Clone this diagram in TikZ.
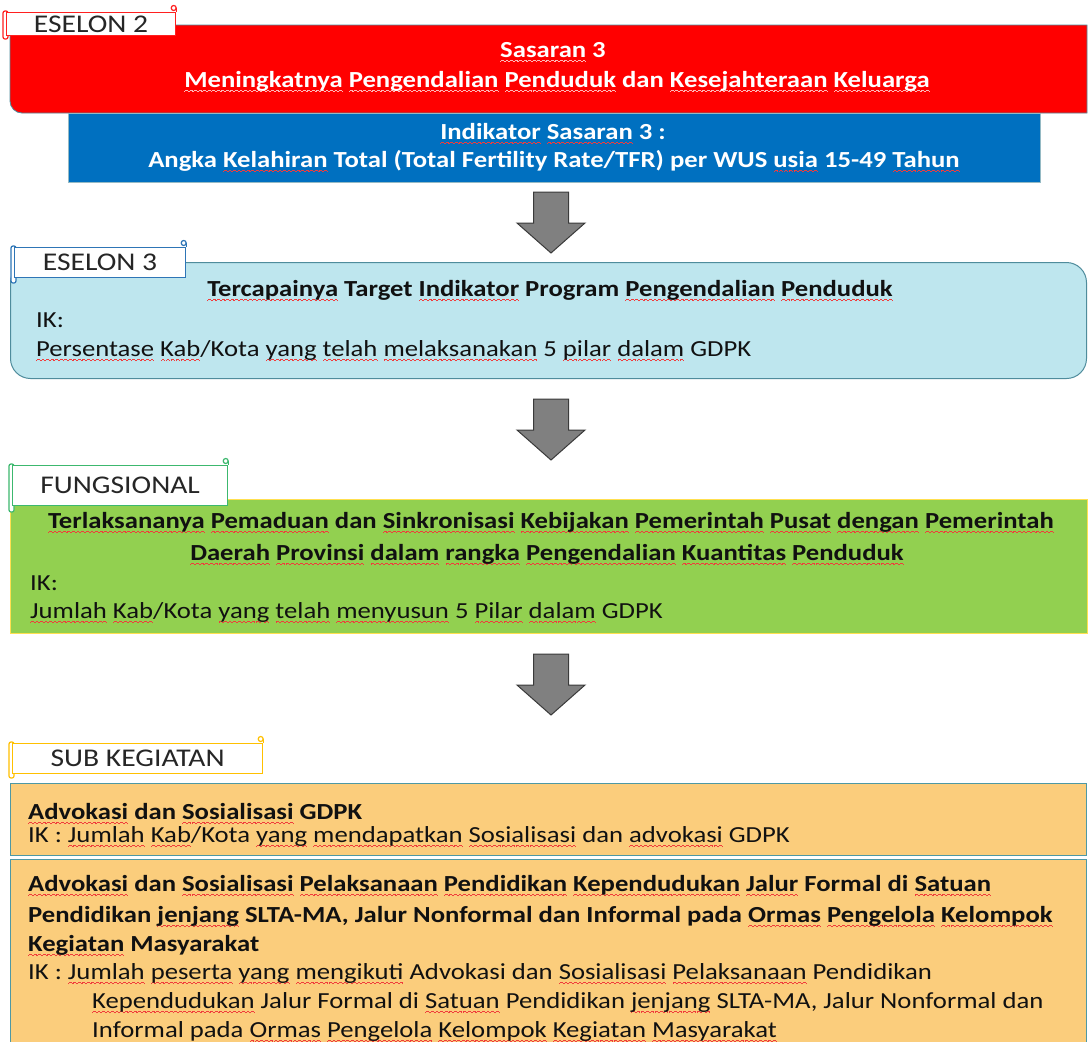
\documentclass[tikz,border=0pt]{standalone}
\usepackage{fontspec}
\setmainfont{Carlito}[FakeStretch=1.16]
\usepackage{xcolor}

\definecolor{sasRed}{HTML}{FF0000}
\definecolor{indBlue}{HTML}{0070C0}
\definecolor{esBlue}{HTML}{BEE6EE}
\definecolor{esEdge}{HTML}{4F8C9C}
\definecolor{fnGreen}{HTML}{92D050}
\definecolor{fnEdge}{HTML}{FFE050}
\definecolor{subOrange}{HTML}{FBCD7C}
\definecolor{subEdge}{HTML}{4E98A4}
\definecolor{tabRed}{HTML}{FF2020}
\definecolor{tabBlue}{HTML}{2E75B6}
\definecolor{tabGreen}{HTML}{3CB86E}
\definecolor{tabGold}{HTML}{FFC000}
\definecolor{arrowFill}{HTML}{808080}
\definecolor{arrowEdge}{HTML}{3A3A3A}
\definecolor{squig}{HTML}{F03C3C}
\definecolor{squigLight}{HTML}{FFB8B8}
\definecolor{ink}{HTML}{111111}

% spell-check style wavy underline, built from tiny stepped rules
\newsavebox\sqbox
\newcommand\wavepiece{\hbox{\rule[-5.0pt]{0.9pt}{1.1pt}\rule[-4.3pt]{0.9pt}{1.1pt}\rule[-3.6pt]{0.9pt}{1.1pt}\rule[-4.3pt]{0.9pt}{1.1pt}\rule[-5.0pt]{0.9pt}{1.1pt}}}
\newcommand\wavedunder[2]{\sbox\sqbox{#2}\rlap{\textcolor{#1}{\hbox to \wd\sqbox{\xleaders\wavepiece\hfill}}}\usebox\sqbox}
\newcommand\sq[1]{\wavedunder{squig}{#1}}
\newcommand\sqw[1]{\wavedunder{squigLight}{#1}}

\begin{document}
\begin{tikzpicture}[x=1pt,y=-1pt,
  body/.style={font=\fontsize{23}{30}\selectfont, inner sep=0pt, text=ink},
  bodyb/.style={body, font=\fontsize{23}{30}\selectfont\bfseries},
  whiteb/.style={bodyb, text=white},
  tab/.style={draw, fill=white, line width=1.2pt, inner sep=0pt,
    font=\fontsize{25.5}{28}\selectfont, text=black!85, anchor=north west},
  tabcurl/.style={fill=white, line width=1.2pt},
  blockarrow/.style={fill=arrowFill, draw=arrowEdge, line width=1pt, line join=miter},
  downarrow/.pic={\draw[blockarrow] (-17.5,0) -- (17.5,0) -- (17.5,31) -- (34,31)
      -- (0,61) -- (-34,31) -- (-17.5,31) -- cycle;}
]
\useasboundingbox (0,0) rectangle (1088,1042);
\fill[white] (0,0) rectangle (1088,1042);

% ---------------- ESELON 2 ----------------
\draw[fill=sasRed, draw=esEdge, line width=0.8pt]
  (10,25) -- (1087,25) -- (1087,113) [rounded corners=12] -- (10,113) [sharp corners] -- cycle;
\node[draw=esEdge!60, fill=indBlue, line width=0.6pt, minimum width=972, minimum height=69,
  inner sep=0pt, anchor=north west] (ind) at (68,113) {};

\node[whiteb, anchor=base] (sasT) at (553,57) {\sqw{Sasaran} 3};
\node[whiteb, anchor=base] (sasL) at (557,87) {\sqw{Meningkatnya} \sqw{Pengendalian} \sqw{Penduduk} dan \sqw{Kesejahteraan} \sqw{Keluarga}};
\node[whiteb, anchor=base] (indT) at (553,139) {\sq{Indikator} \sq{Sasaran} 3 :};
\node[whiteb, anchor=base] (indL) at (554,167) {Angka \sq{Kelahiran} Total (Total Fertility Rate/TFR) per WUS \sq{usia} 15-49 \sq{Tahun}};

% tab label
\draw[tabcurl, draw=tabRed, rounded corners=2] (3,11) rectangle (8,39);
\node[tab, draw=tabRed, minimum width=169, minimum height=23] (tab2) at (6,12) {ESELON 2};
\draw[draw=tabRed, line width=1.2pt] (tab2.north east) -- ++(0,-4);
\draw[tabcurl, draw=tabRed] ([shift={(-2.5,-4)}]tab2.north east) circle (2.5);

% ---------------- arrow ----------------
\pic at (551,192) {downarrow};

% ---------------- ESELON 3 ----------------
\node[draw=esEdge, fill=esBlue, line width=1pt, rounded corners=20, minimum width=1076,
  minimum height=116, inner sep=0pt, anchor=north west] (es3) at (10,262) {};
\node[bodyb, anchor=base] (es3T) at (550,296) {\sq{Tercapainya} Target \sq{Indikator} Program \sq{Pengendalian} \sq{Penduduk}};
\node[body, anchor=base west] (es3IK) at (36,327) {IK:};
\node[body, anchor=base west] (es3L) at (36,356) {\sq{Persentase} \sq{Kab}/Kota \sq{yang} \sq{telah} \sq{melaksanakan} 5 \sq{pilar} \sq{dalam} GDPK};

\draw[tabcurl, draw=tabBlue, rounded corners=2] (11,246) rectangle (16,283);
\node[tab, draw=tabBlue, minimum width=171, minimum height=30] (tab3) at (14,247) {ESELON 3};
\draw[draw=tabBlue, line width=1.2pt] (tab3.north east) -- ++(0,-4);
\draw[tabcurl, draw=tabBlue] ([shift={(-2.5,-4)}]tab3.north east) circle (2.5);

% ---------------- arrow ----------------
\pic at (551,399) {downarrow};

% ---------------- FUNGSIONAL ----------------
\node[draw=fnEdge, fill=fnGreen, line width=1.2pt, minimum width=1077, minimum height=134,
  inner sep=0pt, anchor=north west] (fn) at (10,499) {};
\node[bodyb, anchor=base] (fnT1) at (551,528) {\sq{Terlaksananya} \sq{Pemaduan} dan \sq{Sinkronisasi} \sq{Kebijakan} \sq{Pemerintah} \sq{Pusat} \sq{dengan} \sq{Pemerintah}};
\node[bodyb, anchor=base] (fnT2) at (547,560) {\sq{Daerah} \sq{Provinsi} \sq{dalam} \sq{rangka} \sq{Pengendalian} \sq{Kuantitas} \sq{Penduduk}};
\node[body, anchor=base west] (fnIK) at (30,590) {IK:};
\node[body, anchor=base west] (fnL) at (30,618) {\sq{Jumlah} \sq{Kab}/Kota \sq{yang} \sq{telah} \sq{menyusun} 5 \sq{Pilar} \sq{dalam} GDPK};

\draw[tabcurl, draw=tabGreen, rounded corners=2] (9,464) rectangle (14,512);
\node[tab, draw=tabGreen, minimum width=215, minimum height=40] (tabF) at (12,465) {FUNGSIONAL};
\draw[draw=tabGreen, line width=1.2pt] (tabF.north east) -- ++(0,-4);
\draw[tabcurl, draw=tabGreen] ([shift={(-2.5,-4)}]tabF.north east) circle (2.5);

% ---------------- arrow ----------------
\pic at (551,654) {downarrow};

% ---------------- SUB KEGIATAN ----------------
\node[draw=subEdge, fill=subOrange, line width=1.2pt, minimum width=1076, minimum height=72,
  inner sep=0pt, anchor=north west] (sub1) at (10,783) {};
\node[bodyb, anchor=base west] (sub1T) at (28,819) {\sq{Advokasi} dan \sq{Sosialisasi} GDPK};
\node[body, anchor=base west] (sub1L) at (28,842) {IK : \sq{Jumlah} \sq{Kab}/Kota \sq{yang} \sq{mendapatkan} \sq{Sosialisasi} dan \sq{advokasi} GDPK};

\node[draw=subEdge, fill=subOrange, line width=1.2pt, minimum width=1076, minimum height=200,
  inner sep=0pt, anchor=north west] (sub2) at (10,859) {};
\node[bodyb, anchor=base west] (sub2T1) at (28,891) {\sq{Advokasi} dan \sq{Sosialisasi} \sq{Pelaksanaan} \sq{Pendidikan} \sq{Kependudukan} \sq{Jalur} Formal di \sq{Satuan}};
\node[bodyb, anchor=base west] (sub2T2) at (28,922) {Pendidikan \sq{jenjang} SLTA-MA, Jalur Nonformal dan Informal pada \sq{Ormas} \sq{Pengelola} \sq{Kelompok}};
\node[bodyb, anchor=base west] (sub2T3) at (28,951) {\sq{Kegiatan} Masyarakat};
\node[body, anchor=base west] (sub2L1) at (28,979) {IK : \sq{Jumlah} \sq{peserta} \sq{yang} \sq{mengikuti} Advokasi dan \sq{Sosialisasi} \sq{Pelaksanaan} Pendidikan};
\node[body, anchor=base west] (sub2L2) at (92,1008) {\sq{Kependudukan} Jalur Formal di \sq{Satuan} Pendidikan \sq{jenjang} SLTA-MA, Jalur Nonformal dan};
\node[body, anchor=base west] (sub2L3) at (92,1037) {Informal pada \sq{Ormas} \sq{Pengelola} \sq{Kelompok} \sq{Kegiatan} \sq{Masyarakat}};

\draw[tabcurl, draw=tabGold, rounded corners=2] (9,742) rectangle (14,778);
\node[tab, draw=tabGold, minimum width=250, minimum height=30] (tabS) at (12,743) {SUB KEGIATAN};
\draw[draw=tabGold, line width=1.2pt] (tabS.north east) -- ++(0,-4);
\draw[tabcurl, draw=tabGold] ([shift={(-2.5,-4)}]tabS.north east) circle (2.5);
\end{tikzpicture}
\end{document}
